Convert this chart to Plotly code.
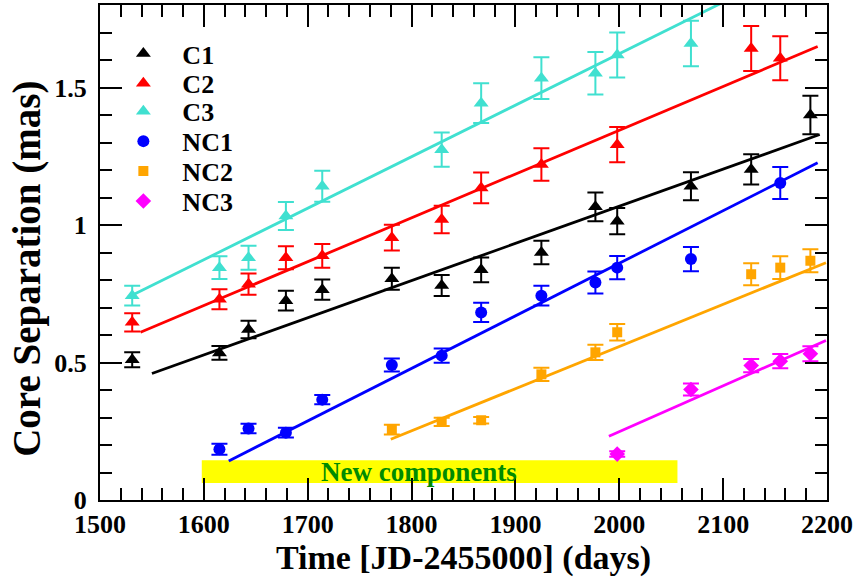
import plotly.graph_objects as go

# ---- data ----
c1_t = [1531, 1615, 1643, 1679, 1714, 1781, 1829, 1867, 1925, 1977, 1998, 2069, 2127, 2184]
c1_r = [0.51, 0.535, 0.62, 0.725, 0.765, 0.805, 0.78, 0.837, 0.90, 1.066, 1.014, 1.141, 1.202, 1.40]
c1_e = [0.027, 0.025, 0.032, 0.036, 0.037, 0.04, 0.038, 0.045, 0.043, 0.052, 0.048, 0.051, 0.055, 0.07]

c2_t = [1531, 1615, 1643, 1679, 1714, 1781, 1829, 1867, 1925, 1998, 2127, 2155]
c2_r = [0.646, 0.73, 0.785, 0.881, 0.888, 0.954, 1.02, 1.135, 1.22, 1.292, 1.642, 1.606]
c2_e = [0.033, 0.036, 0.039, 0.042, 0.043, 0.047, 0.05, 0.056, 0.059, 0.064, 0.082, 0.08]

c3_t = [1531, 1615, 1643, 1679, 1714, 1829, 1867, 1925, 1977, 1998, 2069]
c3_r = [0.743, 0.845, 0.881, 1.033, 1.141, 1.274, 1.443, 1.534, 1.552, 1.618, 1.66]
c3_e = [0.036, 0.041, 0.044, 0.051, 0.056, 0.062, 0.072, 0.076, 0.077, 0.082, 0.083]

nc1_t = [1615, 1643, 1679, 1714, 1781, 1829, 1867, 1925, 1977, 1998, 2069, 2155]
nc1_r = [0.185, 0.26, 0.245, 0.365, 0.491, 0.525, 0.682, 0.743, 0.791, 0.845, 0.876, 1.153]
nc1_e = [0.02, 0.017, 0.018, 0.017, 0.024, 0.026, 0.035, 0.036, 0.04, 0.042, 0.044, 0.058]

nc2_t = [1781, 1829, 1867, 1925, 1977, 1998, 2127, 2155, 2184]
nc2_r = [0.256, 0.284, 0.29, 0.457, 0.537, 0.61, 0.821, 0.845, 0.87]
nc2_e = [0.018, 0.015, 0.012, 0.024, 0.028, 0.03, 0.04, 0.041, 0.042]

nc3_t = [1998, 2069, 2127, 2155, 2184]
nc3_r = [0.167, 0.402, 0.489, 0.505, 0.532]
nc3_e = [0.01, 0.022, 0.024, 0.026, 0.027]

# linear fits (end points)
c1_fit_t, c1_fit_r = [1550, 2193], [0.46, 1.329]
c2_fit_t, c2_fit_r = [1539, 2191], [0.61, 1.649]
c3_fit_t, c3_fit_r = [1527, 2100], [0.737, 1.81]
nc1_fit_t, nc1_fit_r = [1624, 2191], [0.142, 1.226]
nc2_fit_t, nc2_fit_r = [1780, 2199], [0.221, 0.863]
nc3_fit_t, nc3_fit_r = [1990, 2199], [0.232, 0.58]

band_t = [1598, 2056]
band_r = [0.062, 0.145]
band_label = "New components"
band_label_t = 1807

x_ticks = [1500, 1600, 1700, 1800, 1900, 2000, 2100, 2200]

FONT = "Liberation Serif"

series = [
    ("C1", c1_t, c1_r, c1_e, c1_fit_t, c1_fit_r, "#000000", "triangle-up", 13),
    ("C2", c2_t, c2_r, c2_e, c2_fit_t, c2_fit_r, "#FF0000", "triangle-up", 13),
    ("C3", c3_t, c3_r, c3_e, c3_fit_t, c3_fit_r, "#40E0D0", "triangle-up", 13),
    ("NC1", nc1_t, nc1_r, nc1_e, nc1_fit_t, nc1_fit_r, "#0000FF", "circle", 12),
    ("NC2", nc2_t, nc2_r, nc2_e, nc2_fit_t, nc2_fit_r, "#FFA500", "square", 10),
    ("NC3", nc3_t, nc3_r, nc3_e, nc3_fit_t, nc3_fit_r, "#FF00FF", "diamond", 12),
]

fig = go.Figure()

# yellow band
fig.add_shape(type="rect", xref="x", yref="y", x0=band_t[0], x1=band_t[1],
              y0=band_r[0], y1=band_r[1], fillcolor="#FFFF00", line_width=0, layer="below")
fig.add_annotation(x=band_label_t, y=(band_r[0] + band_r[1]) / 2,
                   xref="x", yref="y", text=band_label, showarrow=False,
                   font=dict(family=FONT, size=27, color="#008B00", weight="bold"))

legend_rows_px = [52, 82, 110, 140, 170, 200]
plot_top, plot_bottom = 3.3, 500.0

layout_legends = {}
for i, (name, t, r, e, ft, fr, col, sym, sz) in enumerate(series):
    lname = "legend" if i == 0 else f"legend{i+1}"
    fig.add_trace(go.Scatter(x=ft, y=fr, mode="lines", line=dict(color=col, width=2.8),
                             showlegend=False, hoverinfo="skip"))
    fig.add_trace(go.Scatter(x=t, y=r, mode="markers", name=name,
                             marker=dict(symbol=sym, size=sz, color=col),
                             error_y=dict(type="data", array=e, visible=True, color=col,
                                          thickness=2, width=8),
                             legend=lname))
    ypaper = (plot_bottom - legend_rows_px[i]) / (plot_bottom - plot_top)
    layout_legends[lname] = dict(x=0.006, y=ypaper, xanchor="left", yanchor="middle",
                                 bgcolor="rgba(0,0,0,0)", borderwidth=0,
                                 font=dict(family=FONT, size=26, color="black", weight="bold"),
                                 itemwidth=68)

axis_common = dict(showline=True, linewidth=2, linecolor="black", mirror="ticks",
                   ticks="inside", ticklen=22, tickwidth=2, tickcolor="black",
                   showgrid=False, zeroline=False,
                   tickfont=dict(family=FONT, size=26, color="black", weight="bold"))

fig.update_layout(
    width=858, height=579,
    margin=dict(l=100, r=31, t=3, b=79),
    paper_bgcolor="white", plot_bgcolor="white",
    xaxis=dict(range=[1500, 2200], tickvals=x_ticks,
               minor=dict(dtick=20, ticklen=12, tickwidth=2, tickcolor="black", ticks="inside"),
               title=dict(text="Time [JD-2455000] (days)", standoff=2,
                          font=dict(family=FONT, size=34, color="black", weight="bold")),
               **axis_common),
    yaxis=dict(range=[0, 1.8], dtick=0.5, tick0=0, ticklabelstandoff=6,
               minor=dict(dtick=0.1, ticklen=12, tickwidth=2, tickcolor="black", ticks="inside"),
               **axis_common),
    **layout_legends,
)

fig.add_annotation(x=(27 - 100) / 727, y=(500 - 268) / 496.7, xref="paper", yref="paper",
                   xanchor="center", yanchor="middle",
                   text="Core Separation (mas)", textangle=-90, showarrow=False,
                   font=dict(family=FONT, size=39, color="black", weight="bold"))

fig.write_html("out.html", config={"displayModeBar": False},
               post_script="document.body.style.margin='0';document.body.style.overflow='hidden';")
